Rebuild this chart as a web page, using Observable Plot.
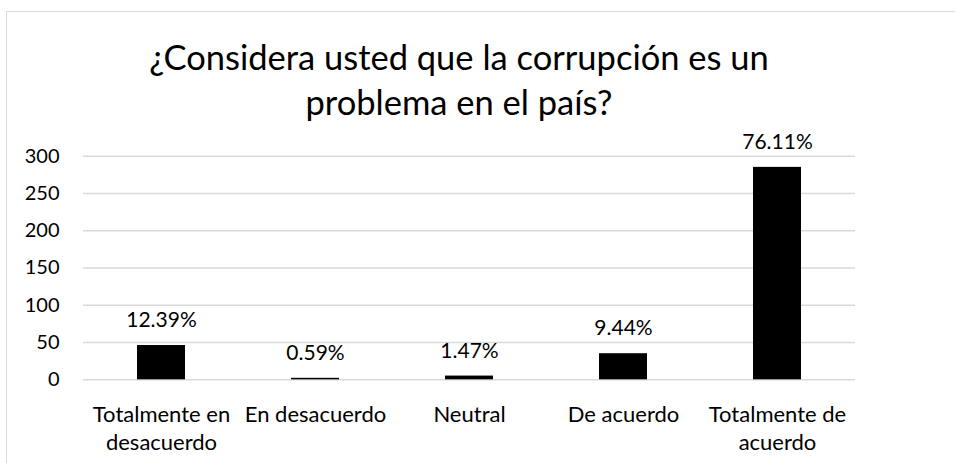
<!DOCTYPE html>
<html>
<head>
<meta charset="utf-8">
<script src="https://cdn.jsdelivr.net/npm/d3@7"></script>
<script src="https://cdn.jsdelivr.net/npm/@observablehq/plot@0.6"></script>
<style>
  html, body { margin: 0; padding: 0; background: #fff; }
  #wrap { position: relative; width: 955px; height: 463px; overflow: hidden; font-family: Lato, "Open Sans", sans-serif; }
  #frame { position: absolute; left: 6px; top: 11px; width: 1000px; height: 1000px; border-left: 1.5px solid #d9d9d9; border-top: 1.5px solid #d9d9d9; box-sizing: border-box; }
  #title { position: absolute; left: 0; width: 918px; top: 34px; text-align: center; font-size: 34.5px; line-height: 45px; color: #000; white-space: nowrap; }
  #chart { position: absolute; left: 0; top: 0; }
</style>
</head>
<body>
<div id="wrap">
  <div id="frame"></div>
  <div id="chart"></div>
  <div id="title">¿Considera usted que la corrupción es un<br>problema en el país?</div>
</div>
<script>
const categories = ["Totalmente en desacuerdo", "En desacuerdo", "Neutral", "De acuerdo", "Totalmente de acuerdo"];
const tickLabels = ["Totalmente en\ndesacuerdo", "En desacuerdo", "Neutral", "De acuerdo", "Totalmente de\nacuerdo"];
const counts = [46, 2, 5, 35, 285];
const percentLabels = ["12.39%", "0.59%", "1.47%", "9.44%", "76.11%"];
const yTicks = [0, 50, 100, 150, 200, 250, 300];

const data = categories.map((c, i) => ({category: c, count: counts[i], pct: percentLabels[i]}));
const labelOf = new Map(categories.map((c, i) => [c, tickLabels[i]]));

const chart = Plot.plot({
  width: 955,
  height: 463,
  marginTop: 155.7,
  marginBottom: 83.7,
  marginLeft: 83,
  marginRight: 100,
  style: {fontFamily: "Lato, 'Open Sans', sans-serif", fontSize: "20px", color: "#000", background: "transparent"},
  x: {domain: categories, paddingInner: 0.69, paddingOuter: 0.345},
  y: {domain: [0, 300]},
  marks: [
    Plot.gridY(yTicks, {stroke: "#d9d9d9", strokeOpacity: 1, strokeWidth: 1.5}),
    Plot.barY(data, {x: "category", y: "count", fill: "#000"}),
    Plot.text(data, {x: "category", y: "count", text: "pct", dy: -25, fontSize: 21, fill: "#000"}),
    Plot.axisY(yTicks, {tickSize: 0, tickPadding: 24, label: null, fontSize: 20, fill: "#000"}),
    Plot.axisX({tickSize: 0, tickPadding: 23, label: null, fontSize: 22, fill: "#000", lineHeight: 1.25, tickFormat: d => labelOf.get(d)})
  ]
});
document.getElementById("chart").appendChild(chart);
</script>
</body>
</html>
